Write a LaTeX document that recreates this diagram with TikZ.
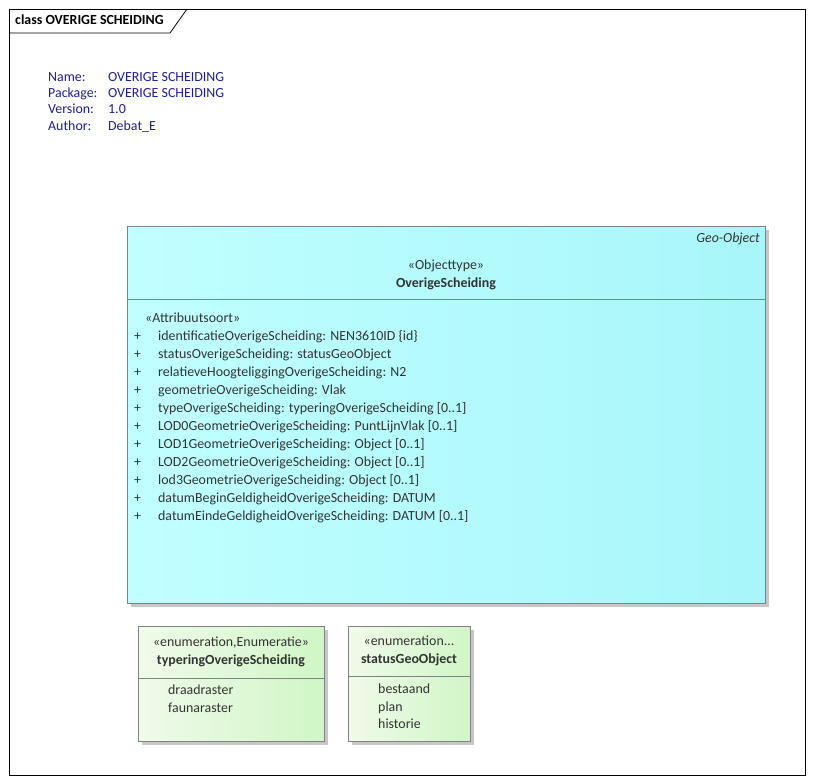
\documentclass[tikz,border=0pt]{standalone}
\usepackage{fontspec}
\setmainfont{Carlito}
\begin{document}
\begin{tikzpicture}[x=1pt,y=-1pt,
  fs/.style={font=\fontsize{13.9}{15}\selectfont#1},
  txt/.style={inner sep=0pt,anchor=base west,fs=,text=black!80},
  info/.style={txt,text={rgb,255:red,30;green,30;blue,160}},
  ctxt/.style={txt,anchor=base},
  clsbox/.style={draw={rgb,255:red,130;green,130;blue,130},line width=0.9pt,inner sep=0pt,
     left color={rgb,255:red,192;green,255;blue,255},right color={rgb,255:red,168;green,246;blue,250}},
  enumbox/.style={draw={rgb,255:red,130;green,130;blue,130},line width=0.9pt,inner sep=0pt,
     left color={rgb,255:red,240;green,250;blue,234},right color={rgb,255:red,208;green,246;blue,198}},
  shadow/.style={fill=black!22,draw=none},
  divider/.style={draw={rgb,255:red,130;green,130;blue,130},line width=0.9pt}]
\useasboundingbox (0,0) rectangle (814,784);
\fill[white] (0,0) rectangle (814,784);
% frame
\draw[line width=0.9pt] (9,9) rectangle (805,775);
\coordinate (t1) at (9,33);
\coordinate (t2) at (170,33);
\coordinate (t3) at (187,9);
\draw[line width=0.8pt] (t1) -- (t2) -- (t3);
\node[txt,fs=\bfseries,text=black] (title) at (15,24.5) {class OVERIGE SCHEIDING};
% info
\node[info] (n1) at (48,81.5) {Name:};
\node[info] (n2) at (48,97.5) {Package:};
\node[info] (n3) at (48,113.5) {Version:};
\node[info] (n4) at (48,130.5) {Author:};
\node[info] (v1) at (108,81.5) {OVERIGE SCHEIDING};
\node[info] (v2) at (108,97.5) {OVERIGE SCHEIDING};
\node[info] (v3) at (108,113.5) {1.0};
\node[info] (v4) at (108,130.5) {Debat\_E};
% main class
\fill[shadow] (131,230) rectangle (769,607);
\node[clsbox,minimum width=638pt,minimum height=377pt] (cls) at (446,414.5) {};
\draw[divider] (cls.west |- 0,299) -- (cls.east |- 0,299);
\node[txt,anchor=base east,fs=\itshape] (geo) at (760,242.5) {Geo-Object};
\node[ctxt] (st) at (446,269.5) {«Objecttype»};
\node[ctxt,fs=\bfseries] (cn) at (446,287) {OverigeScheiding};
\node[txt] (as) at (145,322.5) {«Attribuutsoort»};
\foreach \i/\t in {0/{identificatieOverigeScheiding: NEN3610ID \{id\}},
  1/{statusOverigeScheiding: statusGeoObject},
  2/{relatieveHoogteliggingOverigeScheiding: N2},
  3/{geometrieOverigeScheiding: Vlak},
  4/{typeOverigeScheiding: typeringOverigeScheiding [0..1]},
  5/{LOD0GeometrieOverigeScheiding: PuntLijnVlak [0..1]},
  6/{LOD1GeometrieOverigeScheiding: Object [0..1]},
  7/{LOD2GeometrieOverigeScheiding: Object [0..1]},
  8/{lod3GeometrieOverigeScheiding: Object [0..1]},
  9/{datumBeginGeldigheidOverigeScheiding: DATUM},
  10/{datumEindeGeldigheidOverigeScheiding: DATUM [0..1]}}{
  \node[txt] (p\i) at (134,340+18*\i) {+};
  \node[txt] (a\i) at (158,340+18*\i) {\t};
}
% enum 1
\fill[shadow] (142,630) rectangle (328,745);
\node[enumbox,minimum width=186pt,minimum height=115pt] (en1) at (231,683.5) {};
\draw[divider] (en1.west |- 0,678) -- (en1.east |- 0,678);
\node[ctxt] (e1s) at (231,646.5) {«enumeration,Enumeratie»};
\node[ctxt,fs=\bfseries] (e1n) at (231,664.5) {typeringOverigeScheiding};
\node[txt] (e1a) at (168,694.5) {draadraster};
\node[txt] (e1b) at (168,712.5) {faunaraster};
% enum 2
\fill[shadow] (352,630) rectangle (474,745);
\node[enumbox,minimum width=122pt,minimum height=115pt] (en2) at (409,683.5) {};
\draw[divider] (en2.west |- 0,676) -- (en2.east |- 0,676);
\node[ctxt] (e2s) at (409,645.5) {«enumeration...};
\node[ctxt,fs=\bfseries] (e2n) at (409,663.5) {statusGeoObject};
\node[txt] (e2a) at (378,693.5) {bestaand};
\node[txt] (e2b) at (378,711.5) {plan};
\node[txt] (e2c) at (378,728.5) {historie};
\end{tikzpicture}
\end{document}
